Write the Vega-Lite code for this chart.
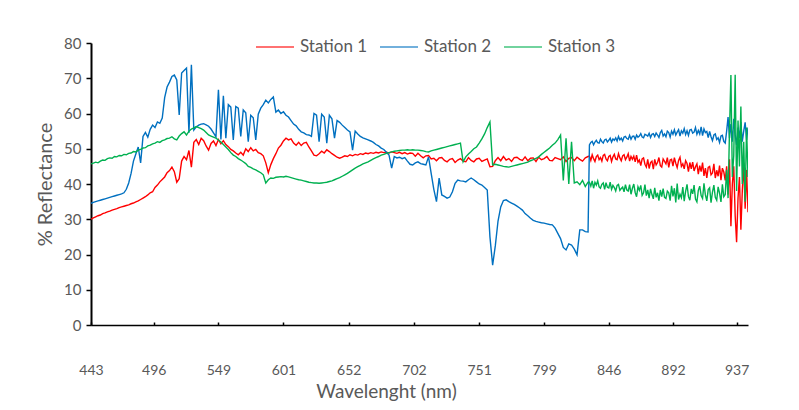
{"$schema":"https://vega.github.io/schema/vega-lite/v6.json","width":657,"height":282,"autosize":"none","padding":{"left":91,"top":43,"right":51,"bottom":85},"background":"white",
"data":{"values":[
{"w":443,"Station 1":30.0,"Station 2":34.5,"Station 3":45.7},
{"w":445,"Station 1":30.4,"Station 2":34.8,"Station 3":45.9},
{"w":447,"Station 1":30.7,"Station 2":35.0,"Station 3":46.2},
{"w":449,"Station 1":31.0,"Station 2":35.2,"Station 3":46.0},
{"w":451,"Station 1":31.2,"Station 2":35.4,"Station 3":46.5},
{"w":453,"Station 1":31.6,"Station 2":35.6,"Station 3":46.8},
{"w":455,"Station 1":31.8,"Station 2":35.8,"Station 3":46.7},
{"w":457,"Station 1":32.1,"Station 2":36.0,"Station 3":47.2},
{"w":459,"Station 1":32.3,"Station 2":36.2,"Station 3":47.4},
{"w":461,"Station 1":32.6,"Station 2":36.4,"Station 3":47.3},
{"w":463,"Station 1":32.8,"Station 2":36.6,"Station 3":47.8},
{"w":465,"Station 1":33.0,"Station 2":36.8,"Station 3":47.7},
{"w":467,"Station 1":33.3,"Station 2":37.0,"Station 3":48.1},
{"w":469,"Station 1":33.5,"Station 2":37.2,"Station 3":48.0},
{"w":471,"Station 1":33.7,"Station 2":37.5,"Station 3":48.4},
{"w":473,"Station 1":33.9,"Station 2":38.5,"Station 3":48.3},
{"w":475,"Station 1":34.1,"Station 2":40.3,"Station 3":48.7},
{"w":477,"Station 1":34.4,"Station 2":43.0,"Station 3":48.8},
{"w":479,"Station 1":34.6,"Station 2":46.5,"Station 3":49.2},
{"w":481,"Station 1":34.9,"Station 2":48.5,"Station 3":49.1},
{"w":483,"Station 1":35.2,"Station 2":50.5,"Station 3":49.6},
{"w":485,"Station 1":35.6,"Station 2":46.0,"Station 3":49.8},
{"w":487,"Station 1":36.0,"Station 2":53.5,"Station 3":50.2},
{"w":489,"Station 1":36.4,"Station 2":54.6,"Station 3":50.3},
{"w":491,"Station 1":36.9,"Station 2":53.3,"Station 3":50.8},
{"w":493,"Station 1":37.5,"Station 2":55.5,"Station 3":51.0},
{"w":495,"Station 1":37.8,"Station 2":56.7,"Station 3":51.4},
{"w":497,"Station 1":39.0,"Station 2":56.0,"Station 3":51.6},
{"w":499,"Station 1":39.7,"Station 2":57.6,"Station 3":52.0},
{"w":501,"Station 1":40.6,"Station 2":57.2,"Station 3":51.8},
{"w":503,"Station 1":41.3,"Station 2":58.7,"Station 3":52.3},
{"w":505,"Station 1":42.0,"Station 2":64.5,"Station 3":52.5},
{"w":507,"Station 1":43.2,"Station 2":67.5,"Station 3":52.9},
{"w":509,"Station 1":43.8,"Station 2":68.9,"Station 3":53.0},
{"w":511,"Station 1":44.8,"Station 2":70.5,"Station 3":53.4},
{"w":513,"Station 1":43.5,"Station 2":70.9,"Station 3":52.8},
{"w":515,"Station 1":40.5,"Station 2":69.5,"Station 3":52.5},
{"w":517,"Station 1":41.5,"Station 2":59.6,"Station 3":53.6},
{"w":519,"Station 1":46.5,"Station 2":71.5,"Station 3":54.3},
{"w":521,"Station 1":47.8,"Station 2":72.2,"Station 3":54.8},
{"w":523,"Station 1":46.9,"Station 2":72.9,"Station 3":53.9},
{"w":525,"Station 1":49.5,"Station 2":54.5,"Station 3":55.0},
{"w":527,"Station 1":44.8,"Station 2":73.8,"Station 3":55.6},
{"w":529,"Station 1":51.8,"Station 2":55.3,"Station 3":55.9},
{"w":531,"Station 1":52.6,"Station 2":56.2,"Station 3":56.3},
{"w":533,"Station 1":51.2,"Station 2":56.7,"Station 3":56.0},
{"w":535,"Station 1":53.0,"Station 2":57.0,"Station 3":55.7},
{"w":537,"Station 1":52.3,"Station 2":57.1,"Station 3":55.3},
{"w":539,"Station 1":50.8,"Station 2":56.8,"Station 3":54.6},
{"w":541,"Station 1":49.6,"Station 2":56.4,"Station 3":53.9},
{"w":543,"Station 1":51.5,"Station 2":55.6,"Station 3":53.6},
{"w":545,"Station 1":52.2,"Station 2":54.5,"Station 3":53.3},
{"w":547,"Station 1":50.9,"Station 2":53.4,"Station 3":53.0},
{"w":549,"Station 1":52.6,"Station 2":66.7,"Station 3":52.5},
{"w":551,"Station 1":51.4,"Station 2":52.6,"Station 3":51.9},
{"w":553,"Station 1":52.3,"Station 2":65.0,"Station 3":51.2},
{"w":555,"Station 1":51.2,"Station 2":53.0,"Station 3":50.5},
{"w":557,"Station 1":50.6,"Station 2":62.5,"Station 3":49.8},
{"w":559,"Station 1":49.8,"Station 2":61.8,"Station 3":48.9},
{"w":561,"Station 1":49.4,"Station 2":52.5,"Station 3":48.2},
{"w":563,"Station 1":48.8,"Station 2":62.0,"Station 3":47.8},
{"w":565,"Station 1":48.3,"Station 2":61.5,"Station 3":47.2},
{"w":567,"Station 1":49.0,"Station 2":53.5,"Station 3":46.8},
{"w":569,"Station 1":48.2,"Station 2":61.0,"Station 3":46.3},
{"w":571,"Station 1":50.0,"Station 2":60.2,"Station 3":45.8},
{"w":573,"Station 1":49.2,"Station 2":52.0,"Station 3":45.0},
{"w":575,"Station 1":50.3,"Station 2":59.5,"Station 3":44.7},
{"w":577,"Station 1":49.4,"Station 2":58.8,"Station 3":44.3},
{"w":579,"Station 1":49.8,"Station 2":52.5,"Station 3":44.0},
{"w":581,"Station 1":48.9,"Station 2":59.8,"Station 3":43.6},
{"w":583,"Station 1":48.6,"Station 2":61.5,"Station 3":43.2},
{"w":585,"Station 1":48.0,"Station 2":62.5,"Station 3":42.6},
{"w":587,"Station 1":46.0,"Station 2":63.8,"Station 3":40.3},
{"w":589,"Station 1":43.2,"Station 2":63.0,"Station 3":41.2},
{"w":591,"Station 1":45.5,"Station 2":64.0,"Station 3":41.7},
{"w":593,"Station 1":47.2,"Station 2":64.7,"Station 3":41.6},
{"w":595,"Station 1":48.6,"Station 2":60.4,"Station 3":41.9},
{"w":597,"Station 1":50.2,"Station 2":61.0,"Station 3":42.0},
{"w":599,"Station 1":51.0,"Station 2":60.0,"Station 3":42.1},
{"w":601,"Station 1":52.2,"Station 2":60.5,"Station 3":42.0},
{"w":603,"Station 1":53.0,"Station 2":59.5,"Station 3":42.2},
{"w":605,"Station 1":52.5,"Station 2":59.0,"Station 3":42.0},
{"w":607,"Station 1":52.8,"Station 2":58.0,"Station 3":41.8},
{"w":609,"Station 1":51.6,"Station 2":57.0,"Station 3":41.6},
{"w":611,"Station 1":51.0,"Station 2":56.5,"Station 3":41.4},
{"w":613,"Station 1":51.8,"Station 2":55.5,"Station 3":41.2},
{"w":615,"Station 1":50.9,"Station 2":54.8,"Station 3":41.1},
{"w":617,"Station 1":51.6,"Station 2":54.5,"Station 3":40.9},
{"w":619,"Station 1":51.8,"Station 2":54.0,"Station 3":40.7},
{"w":621,"Station 1":50.5,"Station 2":53.9,"Station 3":40.5},
{"w":623,"Station 1":49.4,"Station 2":53.5,"Station 3":40.4},
{"w":625,"Station 1":48.2,"Station 2":60.0,"Station 3":40.3},
{"w":627,"Station 1":48.0,"Station 2":59.5,"Station 3":40.3},
{"w":629,"Station 1":48.6,"Station 2":52.0,"Station 3":40.2},
{"w":631,"Station 1":49.3,"Station 2":59.8,"Station 3":40.3},
{"w":633,"Station 1":48.8,"Station 2":59.0,"Station 3":40.4},
{"w":635,"Station 1":49.7,"Station 2":51.6,"Station 3":40.5},
{"w":637,"Station 1":49.2,"Station 2":59.5,"Station 3":40.7},
{"w":639,"Station 1":48.6,"Station 2":58.5,"Station 3":40.9},
{"w":641,"Station 1":48.1,"Station 2":53.0,"Station 3":41.2},
{"w":643,"Station 1":47.6,"Station 2":58.0,"Station 3":41.5},
{"w":645,"Station 1":47.3,"Station 2":57.5,"Station 3":41.8},
{"w":647,"Station 1":47.6,"Station 2":56.7,"Station 3":42.2},
{"w":649,"Station 1":48.0,"Station 2":56.0,"Station 3":42.6},
{"w":651,"Station 1":47.8,"Station 2":55.3,"Station 3":43.0},
{"w":653,"Station 1":48.3,"Station 2":54.8,"Station 3":43.5},
{"w":655,"Station 1":48.0,"Station 2":49.6,"Station 3":44.0},
{"w":657,"Station 1":48.4,"Station 2":55.0,"Station 3":44.5},
{"w":659,"Station 1":48.2,"Station 2":54.2,"Station 3":44.9},
{"w":661,"Station 1":48.6,"Station 2":53.5,"Station 3":45.3},
{"w":663,"Station 1":48.4,"Station 2":53.1,"Station 3":45.7},
{"w":665,"Station 1":48.8,"Station 2":52.8,"Station 3":46.0},
{"w":667,"Station 1":48.6,"Station 2":52.5,"Station 3":46.3},
{"w":669,"Station 1":48.9,"Station 2":52.2,"Station 3":46.7},
{"w":671,"Station 1":48.7,"Station 2":51.8,"Station 3":47.1},
{"w":673,"Station 1":49.0,"Station 2":51.2,"Station 3":47.5},
{"w":675,"Station 1":48.8,"Station 2":50.8,"Station 3":47.8},
{"w":677,"Station 1":49.1,"Station 2":50.2,"Station 3":48.2},
{"w":679,"Station 1":48.9,"Station 2":49.8,"Station 3":48.4},
{"w":681,"Station 1":49.0,"Station 2":49.0,"Station 3":48.7},
{"w":683,"Station 1":48.8,"Station 2":48.2,"Station 3":48.9},
{"w":685,"Station 1":49.1,"Station 2":44.5,"Station 3":49.1},
{"w":687,"Station 1":48.9,"Station 2":47.8,"Station 3":49.3},
{"w":689,"Station 1":48.7,"Station 2":47.4,"Station 3":49.4},
{"w":691,"Station 1":49.0,"Station 2":47.6,"Station 3":49.5},
{"w":693,"Station 1":48.6,"Station 2":47.2,"Station 3":49.6},
{"w":695,"Station 1":48.9,"Station 2":47.5,"Station 3":49.6},
{"w":697,"Station 1":48.5,"Station 2":46.5,"Station 3":49.7},
{"w":699,"Station 1":48.8,"Station 2":45.6,"Station 3":49.6},
{"w":701,"Station 1":48.7,"Station 2":45.4,"Station 3":49.7},
{"w":703,"Station 1":47.9,"Station 2":46.0,"Station 3":49.6},
{"w":705,"Station 1":48.7,"Station 2":46.3,"Station 3":49.6},
{"w":707,"Station 1":48.0,"Station 2":45.8,"Station 3":49.5},
{"w":709,"Station 1":47.4,"Station 2":45.6,"Station 3":49.4},
{"w":711,"Station 1":48.0,"Station 2":45.4,"Station 3":49.2},
{"w":713,"Station 1":48.1,"Station 2":47.7,"Station 3":49.1},
{"w":715,"Station 1":47.1,"Station 2":43.0,"Station 3":49.4},
{"w":717,"Station 1":47.3,"Station 2":38.5,"Station 3":49.6},
{"w":719,"Station 1":46.6,"Station 2":35.0,"Station 3":49.8},
{"w":721,"Station 1":47.4,"Station 2":41.7,"Station 3":50.0},
{"w":723,"Station 1":47.5,"Station 2":36.9,"Station 3":50.2},
{"w":725,"Station 1":46.7,"Station 2":36.5,"Station 3":50.4},
{"w":727,"Station 1":46.3,"Station 2":36.0,"Station 3":50.6},
{"w":729,"Station 1":47.0,"Station 2":36.3,"Station 3":50.8},
{"w":731,"Station 1":47.2,"Station 2":37.8,"Station 3":51.0},
{"w":733,"Station 1":46.1,"Station 2":40.2,"Station 3":51.2},
{"w":735,"Station 1":46.8,"Station 2":41.1,"Station 3":51.4},
{"w":737,"Station 1":47.2,"Station 2":40.9,"Station 3":51.6},
{"w":739,"Station 1":46.5,"Station 2":40.8,"Station 3":46.3},
{"w":741,"Station 1":46.3,"Station 2":40.6,"Station 3":47.7},
{"w":743,"Station 1":47.5,"Station 2":41.2,"Station 3":48.5},
{"w":745,"Station 1":46.7,"Station 2":41.7,"Station 3":49.2},
{"w":747,"Station 1":46.3,"Station 2":41.2,"Station 3":50.0},
{"w":749,"Station 1":47.1,"Station 2":40.6,"Station 3":50.5},
{"w":751,"Station 1":47.3,"Station 2":40.0,"Station 3":51.6},
{"w":753,"Station 1":46.4,"Station 2":39.7,"Station 3":52.8},
{"w":755,"Station 1":46.8,"Station 2":39.0,"Station 3":54.2},
{"w":757,"Station 1":47.1,"Station 2":38.3,"Station 3":56.0},
{"w":759,"Station 1":44.9,"Station 2":25.0,"Station 3":57.6},
{"w":761,"Station 1":45.0,"Station 2":17.0,"Station 3":45.4},
{"w":763,"Station 1":46.6,"Station 2":22.5,"Station 3":45.6},
{"w":765,"Station 1":47.5,"Station 2":29.5,"Station 3":45.4},
{"w":767,"Station 1":46.6,"Station 2":33.5,"Station 3":45.2},
{"w":769,"Station 1":47.8,"Station 2":35.3,"Station 3":45.0},
{"w":771,"Station 1":46.8,"Station 2":35.5,"Station 3":44.9},
{"w":773,"Station 1":47.2,"Station 2":35.0,"Station 3":44.8},
{"w":775,"Station 1":46.4,"Station 2":34.6,"Station 3":45.0},
{"w":777,"Station 1":47.5,"Station 2":34.2,"Station 3":45.2},
{"w":779,"Station 1":47.6,"Station 2":33.7,"Station 3":45.4},
{"w":781,"Station 1":47.0,"Station 2":33.2,"Station 3":45.6},
{"w":783,"Station 1":46.7,"Station 2":32.6,"Station 3":45.8},
{"w":785,"Station 1":47.7,"Station 2":31.6,"Station 3":46.0},
{"w":787,"Station 1":46.6,"Station 2":31.0,"Station 3":46.2},
{"w":789,"Station 1":47.3,"Station 2":30.3,"Station 3":46.6},
{"w":791,"Station 1":47.4,"Station 2":29.7,"Station 3":46.9},
{"w":793,"Station 1":46.4,"Station 2":29.4,"Station 3":47.3},
{"w":795,"Station 1":47.6,"Station 2":29.2,"Station 3":47.7},
{"w":797,"Station 1":46.9,"Station 2":29.0,"Station 3":48.4},
{"w":799,"Station 1":47.2,"Station 2":28.9,"Station 3":49.0},
{"w":801,"Station 1":47.8,"Station 2":28.7,"Station 3":49.6},
{"w":803,"Station 1":46.7,"Station 2":28.5,"Station 3":50.2},
{"w":805,"Station 1":46.6,"Station 2":28.4,"Station 3":51.0},
{"w":807,"Station 1":47.5,"Station 2":27.5,"Station 3":51.6},
{"w":809,"Station 1":47.2,"Station 2":26.0,"Station 3":52.6},
{"w":811,"Station 1":46.9,"Station 2":24.5,"Station 3":53.9},
{"w":813,"Station 1":47.7,"Station 2":22.0,"Station 3":41.0},
{"w":815,"Station 1":46.4,"Station 2":21.3,"Station 3":53.0},
{"w":817,"Station 1":47.3,"Station 2":23.0,"Station 3":40.0},
{"w":819,"Station 1":47.5,"Station 2":22.7,"Station 3":52.0},
{"w":821,"Station 1":46.6,"Station 2":21.5,"Station 3":40.3},
{"w":823,"Station 1":47.6,"Station 2":19.9,"Station 3":40.6},
{"w":825,"Station 1":47.0,"Station 2":27.0,"Station 3":39.8},
{"w":827,"Station 1":46.5,"Station 2":27.0,"Station 3":41.0},
{"w":829,"Station 1":47.4,"Station 2":26.5,"Station 3":39.3},
{"w":831,"Station 1":47.8,"Station 2":26.4,"Station 3":40.5},
{"w":832,"Station 1":47.9,"Station 2":51.1,"Station 3":40.5},
{"w":833,"Station 1":46.7,"Station 2":51.8,"Station 3":39.4},
{"w":834,"Station 1":48.3,"Station 2":52.1,"Station 3":40.9},
{"w":835,"Station 1":47.2,"Station 2":51.1,"Station 3":38.8},
{"w":836,"Station 1":46.4,"Station 2":51.9,"Station 3":40.5},
{"w":837,"Station 1":47.8,"Station 2":52.4,"Station 3":39.7},
{"w":838,"Station 1":48.2,"Station 2":51.7,"Station 3":40.9},
{"w":839,"Station 1":46.9,"Station 2":51.6,"Station 3":39.2},
{"w":840,"Station 1":47.5,"Station 2":52.7,"Station 3":38.8},
{"w":841,"Station 1":46.5,"Station 2":52.0,"Station 3":39.9},
{"w":842,"Station 1":48.1,"Station 2":51.6,"Station 3":40.3},
{"w":843,"Station 1":48.4,"Station 2":52.5,"Station 3":38.5},
{"w":844,"Station 1":47.1,"Station 2":52.7,"Station 3":40.4},
{"w":845,"Station 1":46.6,"Station 2":51.9,"Station 3":39.1},
{"w":846,"Station 1":47.8,"Station 2":52.4,"Station 3":38.9},
{"w":847,"Station 1":48.1,"Station 2":53.0,"Station 3":40.5},
{"w":848,"Station 1":46.4,"Station 2":51.9,"Station 3":38.5},
{"w":849,"Station 1":47.7,"Station 2":52.8,"Station 3":39.6},
{"w":850,"Station 1":48.4,"Station 2":52.4,"Station 3":39.0},
{"w":851,"Station 1":47.1,"Station 2":53.1,"Station 3":38.0},
{"w":852,"Station 1":46.9,"Station 2":52.2,"Station 3":39.6},
{"w":853,"Station 1":48.6,"Station 2":53.5,"Station 3":39.9},
{"w":854,"Station 1":47.4,"Station 2":52.5,"Station 3":38.2},
{"w":855,"Station 1":46.6,"Station 2":53.0,"Station 3":38.7},
{"w":856,"Station 1":48.0,"Station 2":52.2,"Station 3":39.1},
{"w":857,"Station 1":48.3,"Station 2":53.3,"Station 3":37.8},
{"w":858,"Station 1":46.9,"Station 2":53.5,"Station 3":39.8},
{"w":859,"Station 1":47.6,"Station 2":52.9,"Station 3":38.3},
{"w":860,"Station 1":48.6,"Station 2":52.7,"Station 3":38.0},
{"w":861,"Station 1":46.5,"Station 2":53.8,"Station 3":39.8},
{"w":862,"Station 1":47.8,"Station 2":52.7,"Station 3":37.1},
{"w":863,"Station 1":47.0,"Station 2":53.5,"Station 3":38.8},
{"w":864,"Station 1":47.9,"Station 2":53.6,"Station 3":40.0},
{"w":865,"Station 1":46.3,"Station 2":52.7,"Station 3":37.6},
{"w":866,"Station 1":48.2,"Station 2":53.9,"Station 3":36.4},
{"w":867,"Station 1":46.2,"Station 2":53.3,"Station 3":39.2},
{"w":868,"Station 1":46.8,"Station 2":53.6,"Station 3":38.2},
{"w":869,"Station 1":45.2,"Station 2":54.3,"Station 3":39.6},
{"w":870,"Station 1":47.1,"Station 2":53.3,"Station 3":36.8},
{"w":871,"Station 1":47.4,"Station 2":53.1,"Station 3":37.5},
{"w":872,"Station 1":45.6,"Station 2":54.1,"Station 3":39.8},
{"w":873,"Station 1":44.8,"Station 2":53.9,"Station 3":36.7},
{"w":874,"Station 1":47.0,"Station 2":53.6,"Station 3":38.3},
{"w":875,"Station 1":44.4,"Station 2":54.4,"Station 3":36.0},
{"w":876,"Station 1":46.1,"Station 2":53.2,"Station 3":38.6},
{"w":877,"Station 1":46.5,"Station 2":54.1,"Station 3":37.0},
{"w":878,"Station 1":44.2,"Station 2":54.3,"Station 3":35.8},
{"w":879,"Station 1":47.0,"Station 2":53.5,"Station 3":38.9},
{"w":880,"Station 1":45.4,"Station 2":54.5,"Station 3":36.2},
{"w":881,"Station 1":46.1,"Station 2":53.9,"Station 3":37.5},
{"w":882,"Station 1":47.5,"Station 2":53.2,"Station 3":35.3},
{"w":883,"Station 1":45.2,"Station 2":54.6,"Station 3":38.3},
{"w":884,"Station 1":44.8,"Station 2":55.2,"Station 3":36.4},
{"w":885,"Station 1":47.1,"Station 2":53.6,"Station 3":38.7},
{"w":886,"Station 1":46.4,"Station 2":54.2,"Station 3":36.2},
{"w":887,"Station 1":45.7,"Station 2":53.4,"Station 3":35.9},
{"w":888,"Station 1":47.5,"Station 2":55.0,"Station 3":38.0},
{"w":889,"Station 1":44.7,"Station 2":54.6,"Station 3":37.5},
{"w":890,"Station 1":46.8,"Station 2":53.3,"Station 3":35.3},
{"w":891,"Station 1":47.0,"Station 2":55.0,"Station 3":39.5},
{"w":892,"Station 1":45.1,"Station 2":54.1,"Station 3":36.5},
{"w":893,"Station 1":47.5,"Station 2":55.4,"Station 3":38.8},
{"w":894,"Station 1":45.9,"Station 2":53.9,"Station 3":34.8},
{"w":895,"Station 1":44.7,"Station 2":54.7,"Station 3":40.1},
{"w":896,"Station 1":46.7,"Station 2":55.4,"Station 3":35.6},
{"w":897,"Station 1":47.6,"Station 2":53.6,"Station 3":37.1},
{"w":898,"Station 1":45.0,"Station 2":55.1,"Station 3":36.1},
{"w":899,"Station 1":45.7,"Station 2":54.4,"Station 3":39.1},
{"w":900,"Station 1":44.3,"Station 2":55.7,"Station 3":35.1},
{"w":901,"Station 1":46.6,"Station 2":54.0,"Station 3":37.9},
{"w":902,"Station 1":45.8,"Station 2":55.1,"Station 3":39.9},
{"w":903,"Station 1":43.5,"Station 2":53.8,"Station 3":36.4},
{"w":904,"Station 1":46.1,"Station 2":55.3,"Station 3":35.4},
{"w":905,"Station 1":44.3,"Station 2":55.5,"Station 3":38.6},
{"w":906,"Station 1":46.2,"Station 2":54.4,"Station 3":37.2},
{"w":907,"Station 1":43.7,"Station 2":54.7,"Station 3":39.7},
{"w":908,"Station 1":44.9,"Station 2":56.0,"Station 3":35.7},
{"w":909,"Station 1":45.7,"Station 2":54.1,"Station 3":34.9},
{"w":910,"Station 1":42.8,"Station 2":55.2,"Station 3":38.2},
{"w":911,"Station 1":45.2,"Station 2":54.2,"Station 3":39.4},
{"w":912,"Station 1":43.5,"Station 2":56.2,"Station 3":36.7},
{"w":913,"Station 1":46.1,"Station 2":53.7,"Station 3":35.9},
{"w":914,"Station 1":42.3,"Station 2":55.6,"Station 3":40.2},
{"w":915,"Station 1":44.5,"Station 2":54.6,"Station 3":36.9},
{"w":916,"Station 1":41.7,"Station 2":54.9,"Station 3":35.2},
{"w":917,"Station 1":44.7,"Station 2":53.2,"Station 3":38.4},
{"w":918,"Station 1":45.0,"Station 2":54.9,"Station 3":38.9},
{"w":919,"Station 1":42.6,"Station 2":53.4,"Station 3":34.7},
{"w":920,"Station 1":43.1,"Station 2":52.3,"Station 3":37.7},
{"w":921,"Station 1":45.7,"Station 2":53.9,"Station 3":39.7},
{"w":922,"Station 1":41.7,"Station 2":54.2,"Station 3":36.2},
{"w":923,"Station 1":43.9,"Station 2":52.6,"Station 3":35.4},
{"w":924,"Station 1":42.2,"Station 2":53.1,"Station 3":39.2},
{"w":925,"Station 1":45.2,"Station 2":51.8,"Station 3":37.4},
{"w":926,"Station 1":41.1,"Station 2":53.6,"Station 3":34.9},
{"w":927,"Station 1":44.5,"Station 2":53.8,"Station 3":39.9},
{"w":928,"Station 1":43.4,"Station 2":52.1,"Station 3":36.4},
{"w":929,"Station 1":41.0,"Station 2":51.6,"Station 3":37.0},
{"w":930,"Station 1":45.0,"Station 2":55.0,"Station 3":44.0},
{"w":931,"Station 1":37.0,"Station 2":59.0,"Station 3":36.0},
{"w":932,"Station 1":47.0,"Station 2":53.0,"Station 3":55.0},
{"w":933,"Station 1":28.0,"Station 2":57.0,"Station 3":70.9},
{"w":934,"Station 1":40.0,"Station 2":52.0,"Station 3":42.0},
{"w":935,"Station 1":45.0,"Station 2":58.5,"Station 3":48.0},
{"w":936,"Station 1":31.0,"Station 2":54.0,"Station 3":71.0},
{"w":937,"Station 1":23.5,"Station 2":51.0,"Station 3":38.0},
{"w":938,"Station 1":36.0,"Station 2":56.0,"Station 3":58.0},
{"w":939,"Station 1":42.0,"Station 2":53.0,"Station 3":45.0},
{"w":940,"Station 1":27.0,"Station 2":57.6,"Station 3":62.0},
{"w":941,"Station 1":38.0,"Station 2":52.0,"Station 3":40.0},
{"w":942,"Station 1":46.0,"Station 2":55.0,"Station 3":52.0},
{"w":943,"Station 1":33.0,"Station 2":57.5,"Station 3":35.0},
{"w":944,"Station 1":44.0,"Station 2":52.5,"Station 3":56.0},
{"w":945,"Station 1":32.0,"Station 2":56.0,"Station 3":42.0}
]},
"transform":[{"fold":["Station 1","Station 2","Station 3"],"as":["series","value"]}],
"mark":{"type":"line","strokeWidth":1.4,"clip":true},
"encoding":{
"x":{"field":"w","type":"quantitative","scale":{"type":"pow","exponent":1.265,"domain":[443,945],"nice":false,"zero":false},
"axis":{"values":[443,496,549,601,652,702,751,799,846,892,937],"title":"Wavelenght (nm)","grid":false,"domainColor":"#000000","domainWidth":1.5,"tickColor":"#000000","tickWidth":1.5,"tickSize":-3,"labelColor":"#595959","labelFontSize":14,"labelPadding":41,"labelFlush":false,"titleColor":"#595959","titleFontSize":19,"titleFontWeight":"normal","titlePadding":5,"titleX":295,"titleAlign":"center"}},
"y":{"field":"value","type":"quantitative","scale":{"domain":[0,80],"nice":false},
"axis":{"values":[0,10,20,30,40,50,60,70,80],"title":"% Reflectance","grid":false,"domainColor":"#000000","domainWidth":2,"tickColor":"#000000","tickWidth":1.5,"tickSize":5,"labelColor":"#595959","labelFontSize":15,"labelPadding":5,"titleColor":"#595959","titleFontSize":20,"titleFontWeight":"normal","titlePadding":8}},
"color":{"field":"series","type":"nominal","scale":{"domain":["Station 1","Station 2","Station 3"],"range":["#FF0000","#0070C0","#00B050"]},
"legend":{"orient":"none","legendX":164,"legendY":-16,"direction":"horizontal","title":null,"symbolType":"stroke","symbolSize":1444,"symbolStrokeWidth":2,"symbolOpacity":0.55,"labelFontSize":17,"labelColor":"#595959","labelOffset":5,"columnPadding":8}}
},
"config":{"view":{"stroke":null},"font":"Lato"}
}
